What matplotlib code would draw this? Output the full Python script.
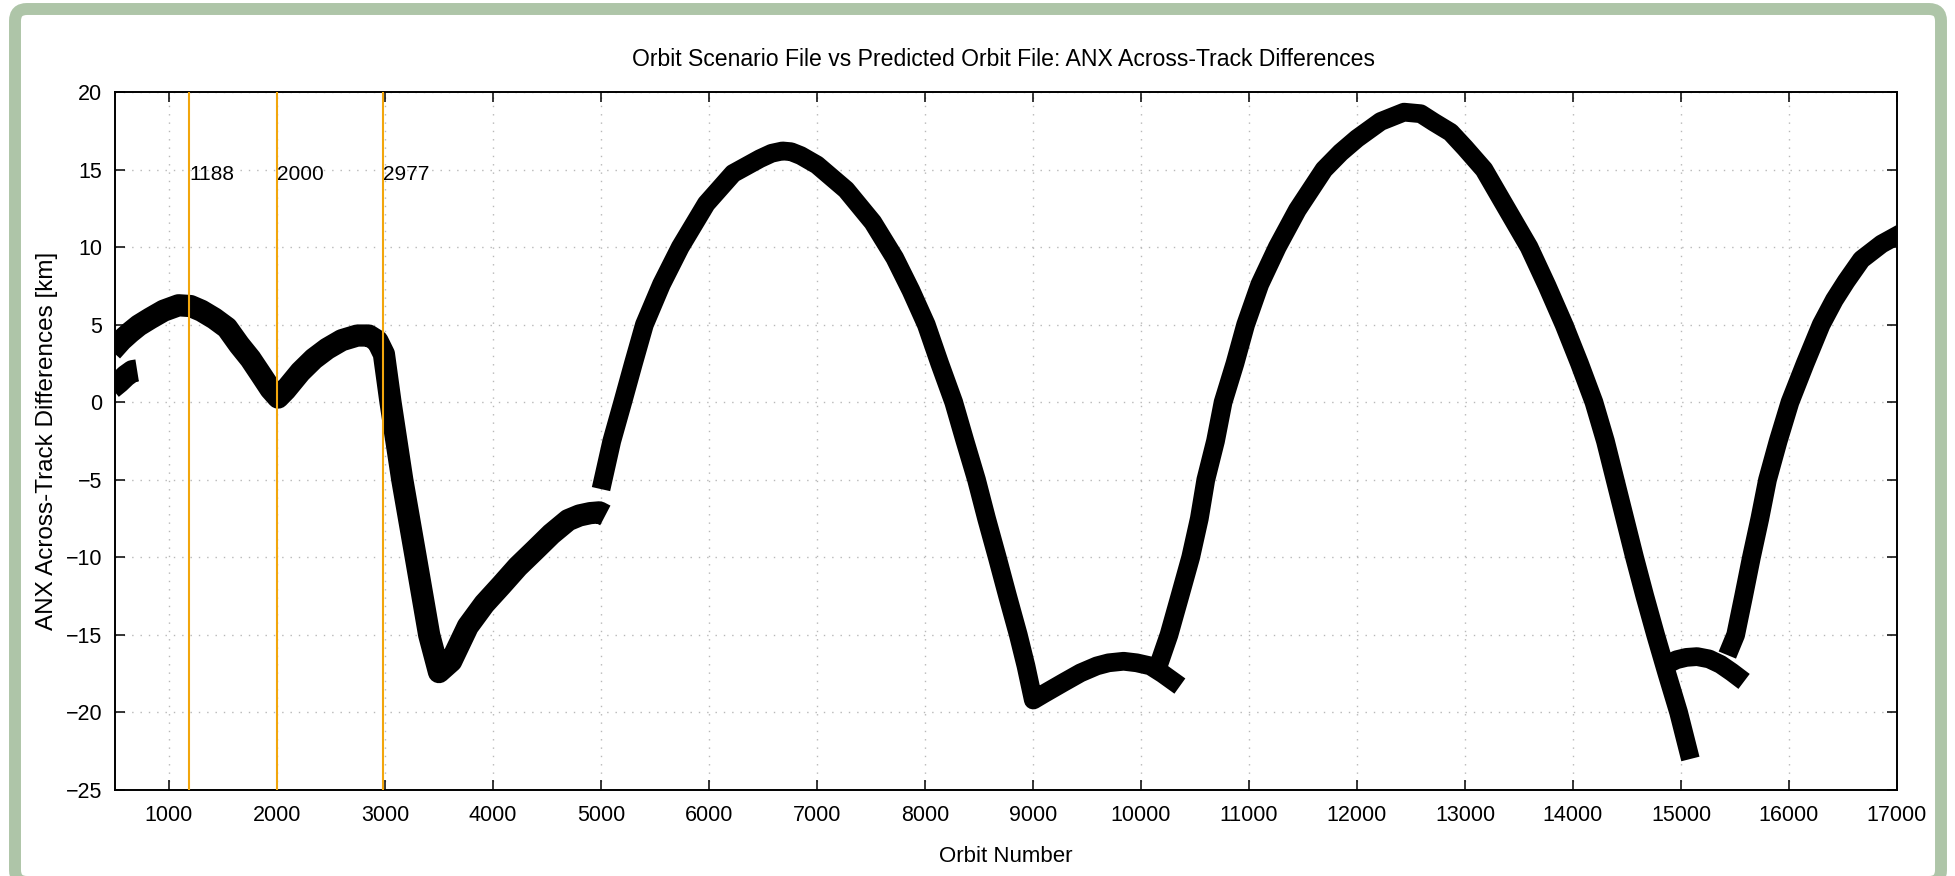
#!/usr/bin/env python3
"""
ANX across-track differences: orbit scenario file vs predicted orbit file
"""

import matplotlib.pyplot as plt
from matplotlib.patches import FancyBboxPatch
from matplotlib.transforms import IdentityTransform

plt.rcParams["font.family"] = ["Liberation Sans", "DejaVu Sans"]

# orbit number / across-track difference [km], one list pair per data run
orbit_a = [470, 560, 640, 720, 825, 950, 1088, 1200, 1300, 1420, 1537, 1650,
           1754, 1850, 1940, 2010, 2080, 2217, 2340, 2464, 2600, 2743, 2850,
           2930, 2990, 3051, 3160, 3285, 3409, 3500, 3613, 3767, 3920, 4077,
           4230, 4386, 4540, 4696, 4800, 4900, 4985, 5040]
diff_a = [3.3, 4.0, 4.5, 4.95, 5.4, 5.9, 6.25, 6.2, 5.9, 5.4, 4.8, 3.7,
          2.8, 1.8, 0.85, 0.3, 0.8, 1.96, 2.8, 3.45, 4.0, 4.3, 4.3,
          3.95, 3.1, 0.0, -5.0, -10.0, -15.0, -17.4, -16.7, -14.45, -13.0, -11.8,
          -10.6, -9.55, -8.5, -7.6, -7.3, -7.15, -7.1, -7.3]

orbit_b = [470, 540, 600, 660, 705]
diff_b = [0.9, 1.3, 1.7, 2.0, 2.05]

orbit_c = [5000, 5100, 5201, 5300, 5402, 5560, 5734, 5975, 6223, 6471, 6580,
           6680, 6760, 6850, 7000, 7269, 7517, 7720, 7870, 8012, 8136, 8266,
           8370, 8477, 8570, 8669, 8765, 8864, 8935, 9003, 9100, 9282, 9440,
           9591, 9700, 9839, 9960, 10087, 10200, 10300, 10360]
diff_c = [-5.6, -2.5, 0.0, 2.5, 5.0, 7.6, 10.0, 12.8, 14.75, 15.7, 16.05,
          16.2, 16.15, 15.9, 15.3, 13.7, 11.6, 9.3, 7.2, 5.0, 2.5, 0.0,
          -2.5, -5.0, -7.5, -10.0, -12.5, -15.0, -17.0, -19.2, -18.8, -18.07, -17.45,
          -17.0, -16.8, -16.7, -16.8, -17.0, -17.5, -18.0, -18.3]

orbit_d = [10160, 10259, 10360, 10460, 10540, 10600, 10690, 10760, 10870, 10969,
           11100, 11262, 11448, 11694, 11849, 12000, 12219, 12435, 12590, 12713,
           12867, 13000, 13176, 13330, 13593, 13760, 13917, 14060, 14194, 14300,
           14390, 14480, 14570, 14665, 14765, 14870, 14978, 15087]
diff_d = [-17.0, -15.0, -12.5, -10.0, -7.5, -5.0, -2.5, 0.0, 2.5, 5.0,
          7.6, 10.0, 12.4, 15.0, 16.1, 17.0, 18.1, 18.7, 18.6, 18.05,
          17.4, 16.4, 15.0, 13.15, 10.0, 7.5, 5.0, 2.5, 0.0, -2.5,
          -5.0, -7.5, -10.0, -12.5, -15.0, -17.5, -20.0, -23.0]

orbit_e = [14870, 14960, 15050, 15149, 15260, 15366, 15470, 15584]
diff_e = [-16.9, -16.6, -16.45, -16.4, -16.55, -16.9, -17.4, -18.0]

orbit_f = [15429, 15506, 15580, 15652, 15730, 15801, 15900, 16009, 16150, 16298,
           16420, 16530, 16671, 16857, 17040]
diff_f = [-16.3, -15.0, -12.5, -10.0, -7.5, -5.0, -2.5, 0.0, 2.5, 5.0,
          6.6, 7.8, 9.2, 10.2, 10.9]

# the early runs are drawn with a slightly fatter point cloud
runs = [(orbit_a, diff_a, 16), (orbit_b, diff_b, 16), (orbit_c, diff_c, 13.5),
        (orbit_d, diff_d, 13.5), (orbit_e, diff_e, 13.5), (orbit_f, diff_f, 13.5)]

# orbits marked with vertical lines
marked_orbits = [1188, 2000, 2977]

xticks = list(range(1000, 17001, 1000))
yticks = list(range(-25, 21, 5))

W, H = 1956, 876
fig = plt.figure(figsize=(W / 100, H / 100), dpi=100)
fig.patch.set_facecolor("white")

# green rounded frame around the whole picture
frame = FancyBboxPatch((15, -6), 1926, 873, boxstyle="round,pad=0,rounding_size=12",
                       transform=IdentityTransform(), facecolor="none",
                       edgecolor="#aec5a8", linewidth=8.6, clip_on=False)
fig.add_artist(frame)

ax = fig.add_axes([115 / W, 1 - 790 / H, (1897 - 115) / W, (790 - 92) / H])

for xs, ys, lw in runs:
    ax.plot(xs, ys, color="black", linewidth=lw, solid_capstyle="butt",
            solid_joinstyle="round", zorder=3)

for orb in marked_orbits:
    ax.axvline(orb, color="#f2a60c", linewidth=1.5, zorder=4)
    ax.text(orb, 14.65, str(orb), fontsize=15, ha="left", va="center", zorder=5)

ax.set_xlim(500, 17000)
ax.set_ylim(-25, 20)
ax.set_xticks(xticks)
ax.set_yticks(yticks)
ax.tick_params(direction="in", length=7, width=1.1, top=True, right=True,
               labelsize=15.5)
ax.tick_params(axis="x", pad=11)
ax.tick_params(axis="y", pad=9)
for sp in ax.spines.values():
    sp.set_linewidth(1.4)
ax.grid(True, linestyle=(0, (1, 5)), color="#b8b8b8", linewidth=1.0, zorder=0)
ax.set_axisbelow(True)

# title and axis labels
fig.text(1004 / W, 1 - 59 / H,
         "Orbit Scenario File vs Predicted Orbit File: ANX Across-Track Differences",
         fontsize=16.6, ha="center", va="center")
fig.text(1006 / W, 1 - 857 / H, "Orbit Number", fontsize=16, ha="center", va="center")
fig.text(47 / W, 1 - 441 / H, "ANX Across-Track Differences [km]", fontsize=17.5,
         rotation=90, ha="center", va="center")

plt.savefig("out.png", dpi=100)
plt.close()
